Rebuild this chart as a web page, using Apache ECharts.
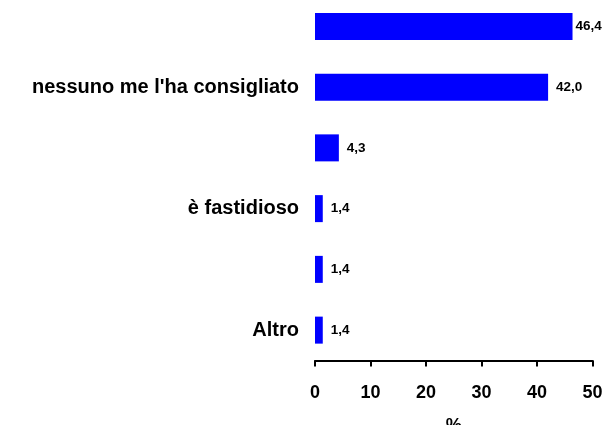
<!DOCTYPE html>
<html>
<head>
<meta charset="utf-8">
<script src="https://cdn.jsdelivr.net/npm/echarts@6/dist/echarts.min.js"></script>
<style>
  html, body { margin: 0; padding: 0; background: #ffffff; }
  #chart { width: 611px; height: 425px; }
</style>
</head>
<body>
<div id="chart"></div>
<script>
// Reasons, listed top to bottom (only some carry a visible label)
const categories = ["", "nessuno me l'ha consigliato", "", "è fastidioso", "", "Altro"];
// Share of respondents, %
const values = [46.4, 42.0, 4.3, 1.4, 1.4, 1.4];
const xTicks = [0, 10, 20, 30, 40, 50];

const FONT = "'Liberation Sans', Arial, sans-serif";

const chart = echarts.init(document.getElementById('chart'), null, { renderer: 'canvas' });

const barData = values.map((v, i) => {
  const item = { value: v };
  // the longest bar's label sits tight against the right edge
  if (i === 0) item.label = { distance: 3 };
  return item;
});

chart.setOption({
  animation: false,
  backgroundColor: '#ffffff',
  grid: {
    left: 315, right: 18.5, top: -4, bottom: 64.5,
    containLabel: false,
    outerBoundsMode: 'none'
  },
  xAxis: {
    type: 'value',
    min: xTicks[0],
    max: xTicks[xTicks.length - 1],
    interval: xTicks[1] - xTicks[0],
    name: '%',
    nameLocation: 'middle',
    nameGap: 57,
    nameTextStyle: { fontFamily: FONT, fontWeight: 'bold', fontSize: 18, color: '#000' },
    axisLine: { show: true, lineStyle: { color: '#000', width: 2 } },
    axisTick: { show: true, length: 6, lineStyle: { color: '#000', width: 2 } },
    splitLine: { show: false },
    axisLabel: {
      margin: 24,
      fontFamily: FONT, fontWeight: 'bold', fontSize: 18, color: '#000',
      formatter: v => String(v)
    }
  },
  yAxis: {
    type: 'category',
    inverse: true,
    data: categories,
    axisLine: { show: false },
    axisTick: { show: false },
    splitLine: { show: false },
    axisLabel: {
      interval: 0,
      margin: 16,
      fontFamily: FONT, fontWeight: 'bold', fontSize: 20, color: '#000'
    }
  },
  series: [{
    type: 'bar',
    data: barData,
    barWidth: 27,
    itemStyle: { color: '#0000ff' },
    label: {
      show: true,
      position: 'right',
      distance: 8,
      fontFamily: FONT, fontWeight: 'bold', fontSize: 13.5, color: '#000',
      formatter: p => p.value.toFixed(1).replace('.', ',')
    }
  }]
});
</script>
</body>
</html>
